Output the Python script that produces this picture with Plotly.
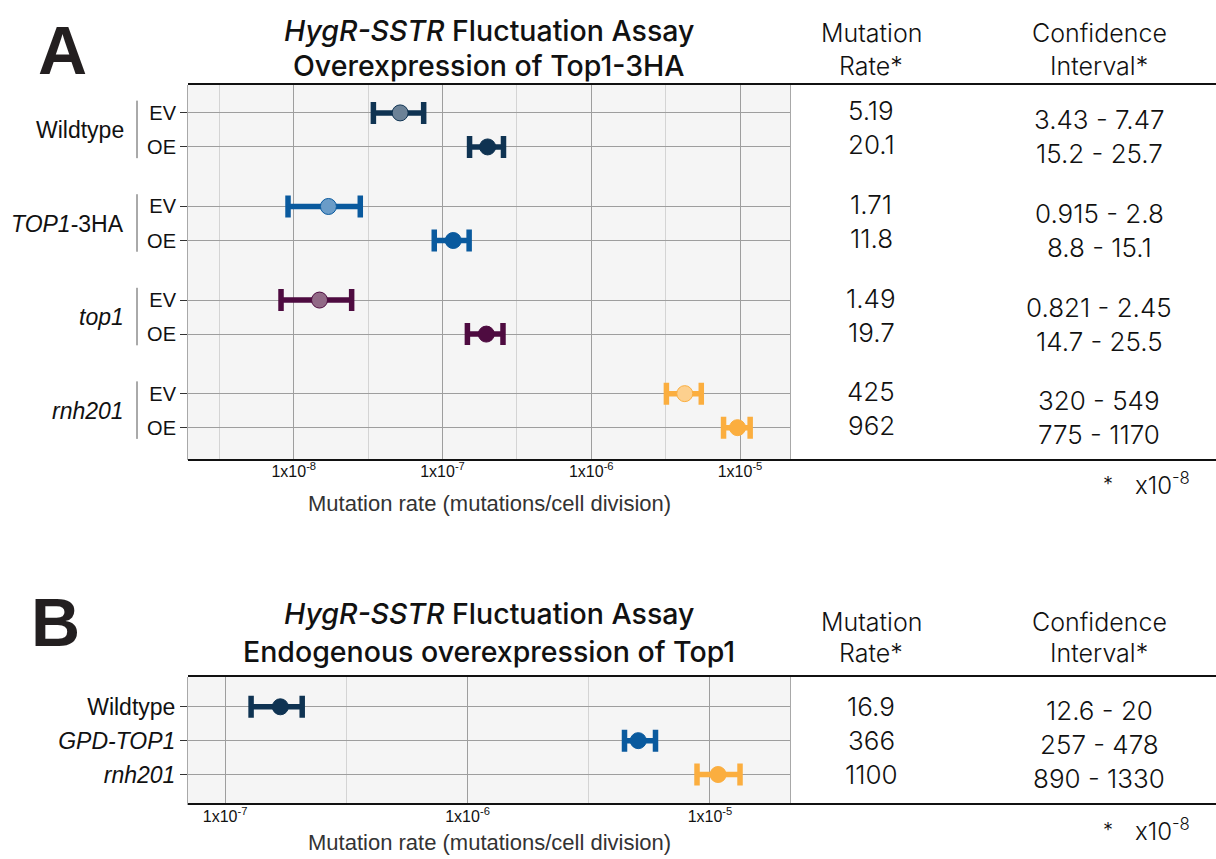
import plotly.graph_objects as go

# ---------------- data ----------------
# Panel A
groups_A = ["Wildtype", "<i>TOP1</i>-3HA", "<i>top1</i>", "<i>rnh201</i>"]
conds_A = ["EV", "OE"]
rate_A = [5.19, 20.1, 1.71, 11.8, 1.49, 19.7, 425, 962]          # x10^-8
ci_lo_A = [3.43, 15.2, 0.915, 8.8, 0.821, 14.7, 320, 775]        # x10^-8
ci_hi_A = [7.47, 25.7, 2.8, 15.1, 2.45, 25.5, 549, 1170]         # x10^-8
dark_A = ["#0f3352", "#0a5a9e", "#4e0b40", "#fbae3f"]
light_A = ["#6c8297", "#6a9cc8", "#926a87", "#fdd08e"]

# Panel B (table text values)
strains_B = ["Wildtype", "<i>GPD-TOP1</i>", "<i>rnh201</i>"]
rate_B = [16.9, 366, 1100]
ci_lo_B = [12.6, 257, 890]
ci_hi_B = [20, 478, 1330]
# Panel B (values as drawn in the chart)
plot_rate_B = [16.9, 506, 1080]
plot_lo_B = [12.8, 444, 884]
plot_hi_B = [20.8, 596, 1330]
color_B = ["#0f3352", "#0a5a9e", "#fbae3f"]

tick_vals_A = [1e-8, 1e-7, 1e-6, 1e-5]
tick_text_A = ["1x10<sup>-8</sup>", "1x10<sup>-7</sup>", "1x10<sup>-6</sup>", "1x10<sup>-5</sup>"]
tick_vals_B = [1e-7, 1e-6, 1e-5]
tick_text_B = ["1x10<sup>-7</sup>", "1x10<sup>-6</sup>", "1x10<sup>-5</sup>"]
minor_A = [10 ** -8.5, 10 ** -7.5, 10 ** -6.5, 10 ** -5.5]
minor_B = [10 ** -6.5, 10 ** -5.5]
SCALE = 1e-8

# ---------------- layout helpers ----------------
W, H = 1216, 859
FONT = "Liberation Sans"
TFONT = "Inter"


def px(x):
    return x / W


def py(y):
    return 1 - y / H


GROUP_STEP = 2.75
fig = go.Figure()

# Panel A traces
ypos_A = []
for g, name in enumerate(groups_A):
    ys = [g * GROUP_STEP + i for i in range(len(conds_A))]
    ypos_A += ys
    idx = [g * 2, g * 2 + 1]
    xv = [rate_A[k] * SCALE for k in idx]
    ep = [(ci_hi_A[k] - rate_A[k]) * SCALE for k in idx]
    em = [(rate_A[k] - ci_lo_A[k]) * SCALE for k in idx]
    fig.add_trace(go.Scatter(
        x=xv, y=ys, mode="markers", xaxis="x", yaxis="y", showlegend=False,
        marker=dict(size=16, color=[light_A[g], dark_A[g]],
                    line=dict(color=dark_A[g], width=1)),
        error_x=dict(type="data", array=ep, arrayminus=em, color=dark_A[g],
                     thickness=5.5, width=11),
    ))

# Panel B traces
ypos_B = list(range(len(strains_B)))
for i, name in enumerate(strains_B):
    fig.add_trace(go.Scatter(
        x=[plot_rate_B[i] * SCALE], y=[ypos_B[i]], mode="markers", xaxis="x2", yaxis="y2",
        showlegend=False,
        marker=dict(size=16, color=color_B[i], line=dict(color=color_B[i], width=1)),
        error_x=dict(type="data", array=[(plot_hi_B[i] - plot_rate_B[i]) * SCALE],
                     arrayminus=[(plot_rate_B[i] - plot_lo_B[i]) * SCALE],
                     color=color_B[i], thickness=5.5, width=11),
    ))

axis_common = dict(
    type="log", showgrid=True, gridcolor="#9e9e9e", gridwidth=1, zeroline=False,
    showline=False, ticks="", tickfont=dict(family=FONT, size=16, color="#111"),
)
yaxis_common = dict(
    showgrid=True, gridcolor="#9e9e9e", gridwidth=1, zeroline=False,
    showline=True, linecolor="#a8a8a8", linewidth=1, mirror=True,
    ticks="outside", ticklen=7, tickcolor="#333", tickwidth=1,
)

ev_oe = [conds_A[i] for g in range(len(groups_A)) for i in range(len(conds_A))]

fig.update_layout(
    width=W, height=H, autosize=False,
    margin=dict(l=0, r=0, t=0, b=0),
    paper_bgcolor="white", plot_bgcolor="#f5f5f5",
    xaxis=dict(axis_common, domain=[px(188), px(790)], range=[-8.711, -4.664],
               tickvals=tick_vals_A, ticktext=tick_text_A, anchor="y",
               minor=dict(tickvals=minor_A, showgrid=True, gridcolor="#d4d4d4", ticks="")),
    yaxis=dict(yaxis_common, domain=[py(460), py(85)], range=[10.2, -0.82],
               tickvals=ypos_A, ticktext=ev_oe, anchor="x",
               tickfont=dict(family=FONT, size=20, color="#111")),
    xaxis2=dict(axis_common, domain=[px(188), px(790)], range=[-7.153, -4.67],
                tickvals=tick_vals_B, ticktext=tick_text_B, anchor="y2",
                minor=dict(tickvals=minor_B, showgrid=True, gridcolor="#d4d4d4", ticks="")),
    yaxis2=dict(yaxis_common, domain=[py(805), py(677)], range=[2.9, -0.88],
                tickvals=ypos_B, ticktext=strains_B, anchor="x2",
                tickfont=dict(family=FONT, size=23, color="#111")),
)

shapes = []
ann = []
LINE = dict(color="#111", width=2)
# table border lines
for yy in (84, 460, 676, 804):
    shapes.append(dict(type="line", xref="paper", yref="paper", x0=px(188), x1=1,
                       y0=py(yy), y1=py(yy), line=LINE, layer="above"))

# group labels and separators (panel A)
for g, name in enumerate(groups_A):
    y0 = g * GROUP_STEP
    y1 = y0 + len(conds_A) - 1
    shapes.append(dict(type="line", xref="paper", yref="y", x0=px(137), x1=px(137),
                       y0=y0 - 0.36, y1=y1 + 0.33, line=dict(color="#555", width=1)))
    ann.append(dict(xref="paper", yref="y", x=px(126), y=(y0 + y1) / 2, text=name,
                    xanchor="right", yanchor="middle", showarrow=False,
                    font=dict(family=FONT, size=23, color="#111")))


# titles
def title(lines_y, lines):
    for yy, t in zip(lines_y, lines):
        ann.append(dict(xref="paper", yref="paper", x=px(489), y=py(yy), text=t,
                        xanchor="center", yanchor="middle", showarrow=False,
                        font=dict(family=TFONT, size=28.5, color="#111", weight=500)))


title([30, 65], ["<i>HygR-SSTR</i> Fluctuation Assay", "Overexpression of Top1-3HA"])
title([613, 651], ["<i>HygR-SSTR</i> Fluctuation Assay", "Endogenous overexpression of Top1"])

for letter, xx, yy in (("A", 62, 50), ("B", 55, 622)):
    ann.append(dict(xref="paper", yref="paper", x=px(xx), y=py(yy), text="<b>%s</b>" % letter,
                    xanchor="center", yanchor="middle", showarrow=False,
                    font=dict(family=FONT, size=68, color="#231f20")))

# column headers
for y1, y2 in ((33, 66), (622, 653)):
    for xx, t1, t2 in ((871, "Mutation", "Rate*"), (1099, "Confidence", "Interval*")):
        for yy, t in ((y1, t1), (y2, t2)):
            ann.append(dict(xref="paper", yref="paper", x=px(xx), y=py(yy), text=t,
                            xanchor="center", yanchor="middle", showarrow=False,
                            font=dict(family=TFONT, size=25, color="#111", weight=300)))

# axis titles
for yy in (504, 842):
    ann.append(dict(xref="paper", yref="paper", x=px(489), y=py(yy),
                    text="Mutation rate (mutations/cell division)",
                    xanchor="center", yanchor="middle", showarrow=False,
                    font=dict(family=FONT, size=22, color="#333")))

# footnotes
for yy in (484, 830):
    ann.append(dict(xref="paper", yref="paper", x=px(1108), y=py(yy), text="*",
                    xanchor="center", yanchor="middle", showarrow=False,
                    font=dict(family=TFONT, size=20, color="#111", weight=300)))
    ann.append(dict(xref="paper", yref="paper", x=px(1133), y=py(yy), text="x10<sup>-8</sup>",
                    xanchor="left", yanchor="middle", showarrow=False,
                    font=dict(family=TFONT, size=24, color="#111", weight=300)))


# table values
def fmt(v):
    return f"{v:g}"


TV = dict(family=TFONT, size=26, color="#111", weight=300)
for k, yv in enumerate(ypos_A):
    ann.append(dict(xref="paper", yref="y", x=px(871), y=yv, yshift=2, text=fmt(rate_A[k]),
                    xanchor="center", yanchor="middle", showarrow=False, font=TV))
    ann.append(dict(xref="paper", yref="y", x=px(1099), y=yv, yshift=-7,
                    text=f"{fmt(ci_lo_A[k])} - {fmt(ci_hi_A[k])}",
                    xanchor="center", yanchor="middle", showarrow=False, font=TV))
for k, yv in enumerate(ypos_B):
    ann.append(dict(xref="paper", yref="y2", x=px(871), y=yv, yshift=0, text=fmt(rate_B[k]),
                    xanchor="center", yanchor="middle", showarrow=False, font=TV))
    ann.append(dict(xref="paper", yref="y2", x=px(1099), y=yv, yshift=-4,
                    text=f"{fmt(ci_lo_B[k])} - {fmt(ci_hi_B[k])}",
                    xanchor="center", yanchor="middle", showarrow=False, font=TV))

fig.update_layout(shapes=shapes, annotations=ann)
fig.write_html("out.html", config={"displayModeBar": False},
               post_script="document.body.style.margin='0';")
